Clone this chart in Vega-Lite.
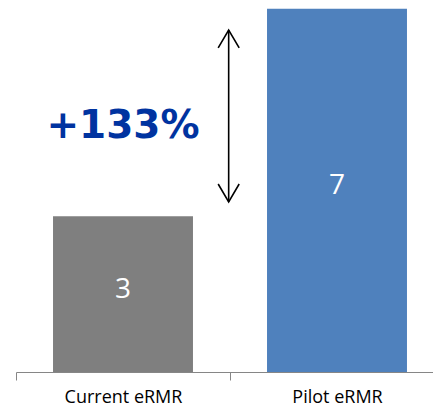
{
  "$schema": "https://vega.github.io/schema/vega-lite/v6.json",
  "width": 417,
  "height": 372,
  "autosize": {"type": "none"},
  "padding": {"left": 16, "top": 0, "right": 0, "bottom": 35},
  "background": "white",
  "config": {"view": {"stroke": null}},
  "layer": [
    {
      "data": {"values": [{"cat": "Current eRMR", "value": 3}, {"cat": "Pilot eRMR", "value": 7}]},
      "mark": {"type": "bar"},
      "encoding": {
        "x": {
          "field": "cat", "type": "nominal", "sort": null,
          "scale": {"range": [0, 428], "paddingInner": 0.346, "paddingOuter": 0.173},
          "axis": {
            "title": null, "labelAngle": 0,
            "tickOffset": -107, "labelOffset": 107,
            "domainColor": "#868686", "tickColor": "#868686", "tickSize": 8,
            "domainWidth": 1, "tickWidth": 1,
            "labelFont": "Open Sans", "labelFontSize": 18, "labelColor": "#000000",
            "labelPadding": 8
          }
        },
        "y": {"field": "value", "type": "quantitative", "scale": {"domain": [0, 7.17], "nice": false}, "axis": null},
        "color": {"field": "cat", "type": "nominal", "sort": null, "scale": {"range": ["#7f7f7f", "#4f81bd"]}, "legend": null}
      }
    },
    {
      "data": {"values": [{"cat": "Current eRMR", "value": 3}, {"cat": "Pilot eRMR", "value": 7}]},
      "transform": [{"calculate": "datum.value / 2", "as": "mid"}],
      "mark": {"type": "text", "font": "Open Sans", "fontSize": 28, "color": "white", "baseline": "middle", "dy": -4},
      "encoding": {
        "x": {"field": "cat", "type": "nominal", "sort": null},
        "y": {"field": "mid", "type": "quantitative"},
        "text": {"field": "value", "type": "quantitative"}
      }
    },
    {
      "data": {"values": [{"cat": "Current eRMR", "pos": 4.74, "label": "+133%"}]},
      "mark": {"type": "text", "font": "DejaVu Sans", "fontWeight": "bold", "fontSize": 39, "color": "#0033a0", "baseline": "middle"},
      "encoding": {
        "x": {"field": "cat", "type": "nominal", "sort": null},
        "y": {"field": "pos", "type": "quantitative"},
        "text": {"field": "label", "type": "nominal"}
      }
    },
    {
      "data": {"values": [{"cat": "Pilot eRMR", "top": 6.59, "bottom": 3.28}]},
      "mark": {"type": "rule", "color": "black", "strokeWidth": 1.6},
      "encoding": {
        "x": {"field": "cat", "type": "nominal", "sort": null, "bandPosition": -0.274},
        "y": {"field": "top", "type": "quantitative"},
        "y2": {"field": "bottom"}
      }
    },
    {
      "data": {"values": [{"cat": "Pilot eRMR", "tip": 6.59}]},
      "mark": {"type": "point", "shape": "M-1,1.7L0,0L1,1.7", "size": 441, "filled": false, "stroke": "black", "strokeWidth": 1.6, "opacity": 1},
      "encoding": {
        "x": {"field": "cat", "type": "nominal", "sort": null, "bandPosition": -0.274},
        "y": {"field": "tip", "type": "quantitative"}
      }
    },
    {
      "data": {"values": [{"cat": "Pilot eRMR", "tip": 3.28}]},
      "mark": {"type": "point", "shape": "M-1,-1.7L0,0L1,-1.7", "size": 441, "filled": false, "stroke": "black", "strokeWidth": 1.6, "opacity": 1},
      "encoding": {
        "x": {"field": "cat", "type": "nominal", "sort": null, "bandPosition": -0.274},
        "y": {"field": "tip", "type": "quantitative"}
      }
    }
  ]
}
